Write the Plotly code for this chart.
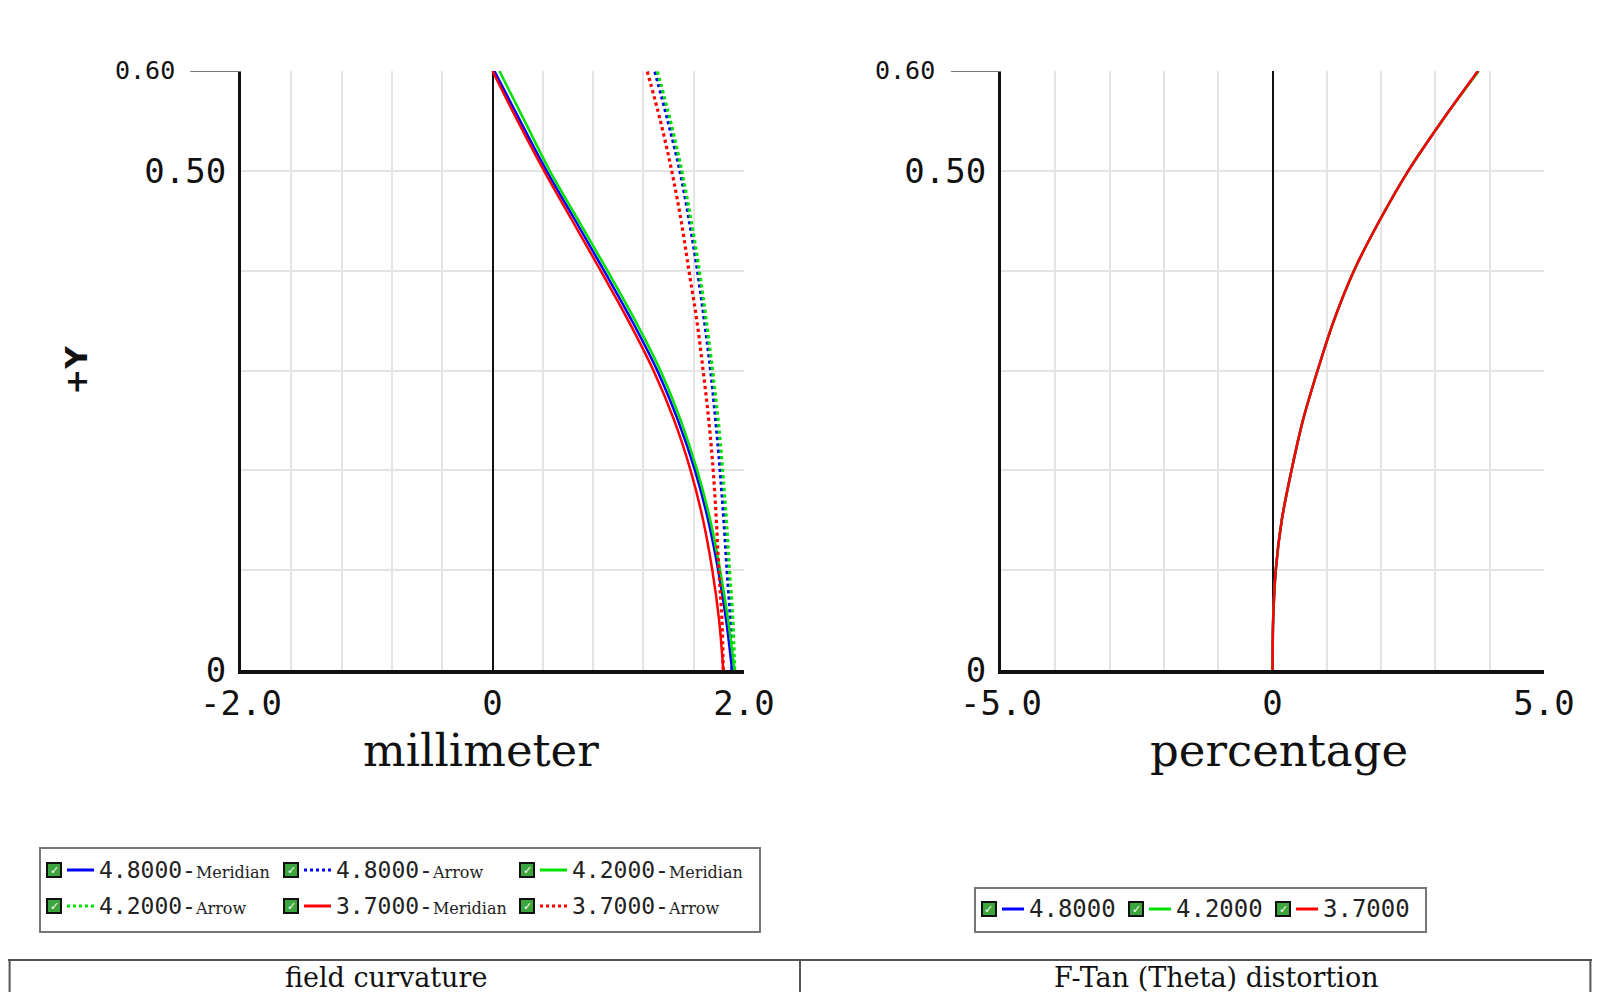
import plotly.graph_objects as go

# the page body keeps an 8px margin, so the figure is drawn 8px in from the window edge
OFF = 8
W, H = 1600 - 2 * OFF, 1000 - 2 * OFF

# field curvature, image height (+Y) vs focus shift in millimeter
field_y = [0.0, 0.05, 0.1, 0.15, 0.2, 0.25, 0.3, 0.35, 0.4, 0.45, 0.5, 0.55, 0.6]
meridian_480 = [1.905, 1.858, 1.795, 1.715, 1.61, 1.475, 1.31, 1.108, 0.887, 0.66, 0.43, 0.22, 0.015]
arrow_480 = [1.905, 1.892, 1.865, 1.84, 1.81, 1.775, 1.735, 1.685, 1.63, 1.565, 1.49, 1.395, 1.29]
meridian_420 = [1.925, 1.874, 1.81, 1.732, 1.628, 1.497, 1.335, 1.135, 0.914, 0.685, 0.456, 0.255, 0.055]
arrow_420 = [1.925, 1.912, 1.885, 1.86, 1.83, 1.795, 1.75, 1.70, 1.645, 1.58, 1.505, 1.415, 1.31]
meridian_370 = [1.835, 1.802, 1.748, 1.675, 1.575, 1.445, 1.28, 1.08, 0.86, 0.635, 0.41, 0.2, 0.0]
arrow_370 = [1.835, 1.825, 1.80, 1.78, 1.755, 1.72, 1.675, 1.625, 1.562, 1.5, 1.425, 1.335, 1.23]

# F-tan(theta) distortion in percentage
dist_y = [0.0, 0.05, 0.1, 0.15, 0.2, 0.25, 0.3, 0.35, 0.4, 0.45, 0.5, 0.55, 0.6]
dist_480 = [0.0, 0.012, 0.06, 0.17, 0.35, 0.56, 0.83, 1.13, 1.5, 1.97, 2.5, 3.12, 3.785]
dist_420 = [0.0, 0.012, 0.06, 0.17, 0.35, 0.56, 0.83, 1.13, 1.5, 1.97, 2.5, 3.12, 3.80]
dist_370 = [0.0, 0.012, 0.06, 0.17, 0.35, 0.56, 0.83, 1.13, 1.5, 1.97, 2.5, 3.12, 3.785]

wavelengths = ["4.8000", "4.2000", "3.7000"]
colors = ["rgb(0,0,255)", "rgb(0,225,0)", "rgb(255,0,0)"]

field_xticks = [-2.0, -1.6, -1.2, -0.8, -0.4, 0.0, 0.4, 0.8, 1.2, 1.6, 2.0]
field_xtext = ["-2.0", "", "", "", "", "0", "", "", "", "", "2.0"]
dist_xticks = [-5.0, -4.0, -3.0, -2.0, -1.0, 0.0, 1.0, 2.0, 3.0, 4.0, 5.0]
dist_xtext = ["-5.0", "", "", "", "", "0", "", "", "", "", "5.0"]
yticks = [0.0, 0.1, 0.2, 0.3, 0.4, 0.5, 0.6]
ytext = ["0", "", "", "", "", "0.50", ""]

TICKFONT = "DejaVu Sans Mono"
SERIF = "DejaVu Serif"


def px(x):
    # window pixel -> paper fraction
    return (x - OFF) / W


def py(y):
    return 1 - (y - OFF) / H


fig = go.Figure()

field_series = [
    (meridian_480, colors[0], "solid", "Meridian"),
    (arrow_480, colors[0], "dot", "Arrow"),
    (meridian_420, colors[1], "solid", "Meridian"),
    (arrow_420, colors[1], "dot", "Arrow"),
    (meridian_370, colors[2], "solid", "Meridian"),
    (arrow_370, colors[2], "dot", "Arrow"),
]
field_names = [wavelengths[0], wavelengths[0], wavelengths[1], wavelengths[1], wavelengths[2], wavelengths[2]]

for (xs, col, dash, kind), wl in zip(field_series, field_names):
    fig.add_trace(go.Scatter(
        x=xs, y=field_y, mode="lines", xaxis="x", yaxis="y",
        line=dict(color=col, width=2.5 if dash == "solid" else 3.2, dash=dash,
                  shape="spline", smoothing=1.0),
        name=wl + "-" + kind, showlegend=False,
    ))

for xs, col, wl in zip([dist_480, dist_420, dist_370], colors, wavelengths):
    fig.add_trace(go.Scatter(
        x=xs, y=dist_y, mode="lines", xaxis="x2", yaxis="y2",
        line=dict(color=col, width=2.5, shape="spline", smoothing=0.8),
        name=wl, showlegend=False,
    ))


def xaxis(domain, rng, vals, text, anchor):
    return dict(
        domain=domain, range=rng, anchor=anchor, automargin=False,
        tickvals=vals, ticktext=text, ticks="",
        tickfont=dict(family=TICKFONT, size=34, color="#111"),
        ticklabelstandoff=0,
        showgrid=True, gridcolor="#e4e4e4", gridwidth=2,
        zeroline=True, zerolinecolor="#111", zerolinewidth=2,
        showline=True, linecolor="#111", linewidth=4,
        fixedrange=True,
    )


def yaxis(domain, anchor, title=None):
    ax = dict(
        domain=domain, range=[0, 0.6], anchor=anchor, automargin=False,
        tickvals=yticks, ticktext=ytext, ticks="",
        tickfont=dict(family=TICKFONT, size=34, color="#111"),
        ticklabelstandoff=5,
        showgrid=True, gridcolor="#e4e4e4", gridwidth=2,
        zeroline=False,
        showline=True, linecolor="#111", linewidth=3,
        fixedrange=True,
    )
    if title:
        ax["title"] = dict(text=title, font=dict(family="DejaVu Sans", size=31, color="#111"), standoff=48)
    return ax


ydom = [py(670), py(71)]
fig.update_layout(
    width=W, height=H,
    margin=dict(l=0, r=0, t=0, b=0),
    paper_bgcolor="white", plot_bgcolor="white",
    xaxis=xaxis([px(241), px(744)], [-2.0, 2.0], field_xticks, field_xtext, "y"),
    yaxis=yaxis(ydom, "x", "<b>+Y</b>"),
    xaxis2=xaxis([px(1001), px(1544)], [-5.0, 5.0], dist_xticks, dist_xtext, "y2"),
    yaxis2=yaxis(ydom, "x2"),
)

shapes = []
annotations = []

# axis titles under each plot
for cx, txt in [(481, "millimeter"), (1279, "percentage")]:
    annotations.append(dict(xref="paper", yref="paper", x=px(cx), y=py(779), text=txt, showarrow=False,
                            xanchor="center", yanchor="bottom",
                            font=dict(family=SERIF, size=45, color="#111")))

# small "0.60" label with its long tick on both plots
for xref, yref, lab_x, tick_x in [("x domain", "y", -0.127, -0.101), ("x2 domain", "y2", -0.118, -0.092)]:
    shapes.append(dict(type="line", xref=xref, yref=yref, x0=tick_x, x1=0, y0=0.6, y1=0.6,
                       line=dict(color="#777", width=2)))
    annotations.append(dict(xref=xref, yref=yref, x=lab_x, y=0.6, xanchor="right", yanchor="middle",
                            text="0.60", showarrow=False,
                            font=dict(family=TICKFONT, size=25, color="#111")))


def legend_entry(cx, cy, color, dash, label, sub, line_len, text_size):
    # check box
    shapes.append(dict(type="rect", xref="paper", yref="paper",
                       x0=px(cx), x1=px(cx + 14), y0=py(cy + 7), y1=py(cy - 7),
                       line=dict(color="#111", width=2), fillcolor="#3da53d"))
    annotations.append(dict(xref="paper", yref="paper", x=px(cx + 7), y=py(cy), text="✓",
                            showarrow=False, xanchor="center", yanchor="middle",
                            font=dict(family="DejaVu Sans", size=11, color="white")))
    shapes.append(dict(type="line", xref="paper", yref="paper",
                       x0=px(cx + 20), x1=px(cx + 20 + line_len), y0=py(cy), y1=py(cy),
                       line=dict(color=color, width=3, dash=dash)))
    text = label
    if sub:
        text += "-<span style='font-size:16px;font-family:DejaVu Serif'>" + sub + "</span>"
    annotations.append(dict(xref="paper", yref="paper", x=px(cx + 23 + line_len), y=py(cy),
                            text=text, showarrow=False, xanchor="left", yanchor="middle",
                            font=dict(family=TICKFONT, size=text_size, color="#222")))


# field curvature legend box
shapes.append(dict(type="rect", xref="paper", yref="paper", x0=px(40), x1=px(760), y0=py(932), y1=py(848),
                   line=dict(color="#777", width=2)))
cols = [47, 284, 520]
rows = [870, 906]
for i, ((xs, col, dash, kind), wl) in enumerate(zip(field_series, field_names)):
    legend_entry(cols[i % 3], rows[i // 3], col, dash, wl, kind, 27, 23)

# distortion legend box
shapes.append(dict(type="rect", xref="paper", yref="paper", x0=px(975), x1=px(1426), y0=py(932), y1=py(888),
                   line=dict(color="#777", width=2)))
for i, (col, wl) in enumerate(zip(colors, wavelengths)):
    legend_entry([982, 1129, 1276][i], 909, col, "solid", wl, None, 22, 24)

# caption table at the bottom (runs off the page edge)
tbl = dict(color="#555", width=2)
shapes.append(dict(type="line", xref="paper", yref="paper", x0=0, x1=1, y0=py(960), y1=py(960), line=tbl))
for xx in [0.001, px(800), 0.999]:
    shapes.append(dict(type="line", xref="paper", yref="paper", x0=xx, x1=xx, y0=0, y1=py(960), line=tbl))
for cx, txt in [(386, "field curvature"), (1216, "F-Tan (Theta) distortion")]:
    annotations.append(dict(xref="paper", yref="paper", x=px(cx), y=py(977), text=txt, showarrow=False,
                            xanchor="center", yanchor="middle",
                            font=dict(family=SERIF, size=27, color="#111")))

fig.update_layout(shapes=shapes, annotations=annotations)

fig.write_html("out.html")
